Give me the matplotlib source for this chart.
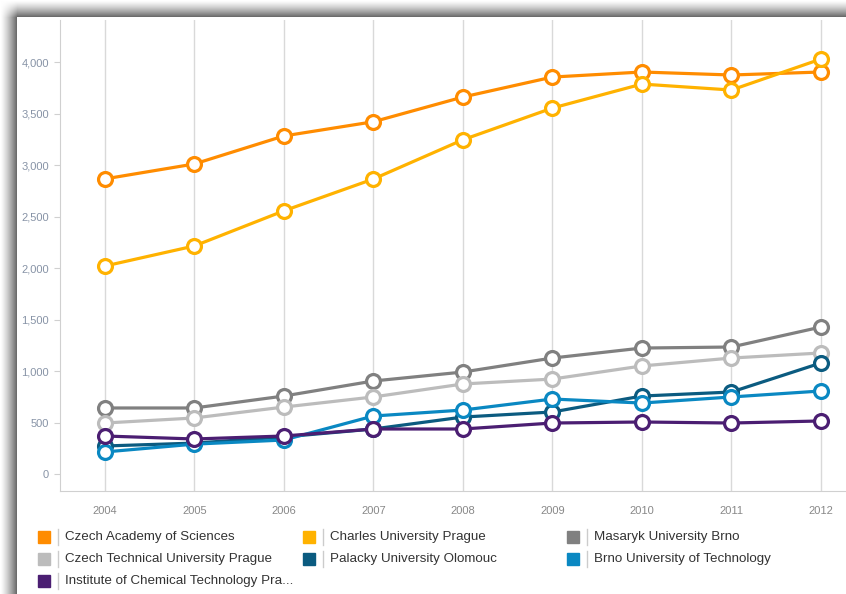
import matplotlib.pyplot as plt
import numpy as np
from matplotlib.patches import Rectangle
from matplotlib.lines import Line2D

plt.rcParams['font.family'] = ['Liberation Sans', 'DejaVu Sans']

# data
years = [2004, 2005, 2006, 2007, 2008, 2009, 2010, 2011, 2012]

academy = [2865, 3010, 3282, 3420, 3660, 3854, 3903, 3874, 3903]
charles = [2019, 2214, 2555, 2864, 3245, 3553, 3786, 3728, 4029]
masaryk = [641, 641, 757, 903, 990, 1126, 1223, 1233, 1427]
ctu = [495, 544, 650, 748, 874, 922, 1049, 1126, 1175]
palacky = [272, 300, 360, 437, 553, 602, 757, 796, 1078]
brno = [214, 290, 330, 563, 621, 728, 689, 748, 806]
ict = [369, 340, 369, 437, 437, 495, 505, 495, 515]

names = ["Czech Academy of Sciences", "Charles University Prague", "Masaryk University Brno",
         "Czech Technical University Prague", "Palacky University Olomouc",
         "Brno University of Technology", "Institute of Chemical Technology Pra..."]
series = [academy, charles, masaryk, ctu, palacky, brno, ict]
colors = ['#ff8c00', '#ffb200', '#808080', '#bcbcbc', '#0b5b80', '#0a88c2', '#4b1e72']

W, H = 846, 594
fig = plt.figure(figsize=(W / 100, H / 100), dpi=100)

# frame shadow on the left and top edges
xs = np.arange(W)
ys = np.arange(H)
def fade(v):
    t = np.clip(v / 17.0, 0, 1)
    return 0.62 * t ** 1.3
dx = np.where(xs < 17, fade(xs), 1.0)
dy = np.where(ys < 17, fade(ys), 1.0)
dark = np.zeros((H, W))
left = xs[None, :] < 17
top = ys[:, None] < 17
dark = np.where(left & ~top, dx[None, :] * np.ones((H, 1)), dark)
dark = np.where(top & ~left, dy[:, None] * np.ones((1, W)), dark)
dark = np.where(top & left, dx[None, :] * dy[:, None] / 0.62, dark)
img = np.repeat((1 - dark)[:, :, None], 3, axis=2)
fig.figimage(img, xo=0, yo=0, origin='upper', zorder=-5)

ax = fig.add_axes([60 / W, 1 - 491 / H, 1 - 60 / W, (491 - 20) / H])
ax.set_facecolor('none')
ax.set_zorder(2)

for vals, c in zip(series, colors):
    ax.plot(years, vals, color=c, lw=2.3, marker='o', ms=10, mfc='white',
            mec=c, mew=2.3, clip_on=False)

ax.set_xlim(2003.5, 2012.28)
ax.set_ylim(-165, 4408)
ax.set_xticks(years)
ax.set_yticks(np.arange(0, 4001, 500))
ax.set_yticklabels([f"{v:,}" for v in range(0, 4001, 500)])
ax.grid(axis='x', color='#d9d9d9', lw=1)
ax.set_axisbelow(True)
for s in ['top', 'right']:
    ax.spines[s].set_visible(False)
for s in ['left', 'bottom']:
    ax.spines[s].set_color('#d0d0d0')
ax.tick_params(axis='x', length=0, pad=11, labelsize=8, labelcolor='#888888')
ax.tick_params(axis='y', length=4, color='#d0d0d0', pad=4, labelsize=8, labelcolor='#8793a6')

# legend, three columns
col_x = [38, 303, 567]
row_y = [537, 559, 581]
for i, (name, c) in enumerate(zip(names, colors)):
    x0 = col_x[i % 3]
    y0 = row_y[i // 3]
    fig.patches.append(Rectangle((x0 / W, 1 - (y0 + 6) / H), 12 / W, 12 / H,
                                 transform=fig.transFigure, color=c))
    fig.lines.append(Line2D([(x0 + 20) / W] * 2, [1 - (y0 - 8) / H, 1 - (y0 + 8) / H],
                            transform=fig.transFigure, color='#cccccc', lw=1))
    fig.text((x0 + 27) / W, 1 - y0 / H, name, fontsize=9.6, color='#333333',
             va='center', ha='left')

fig.savefig('out.png', dpi=100)
